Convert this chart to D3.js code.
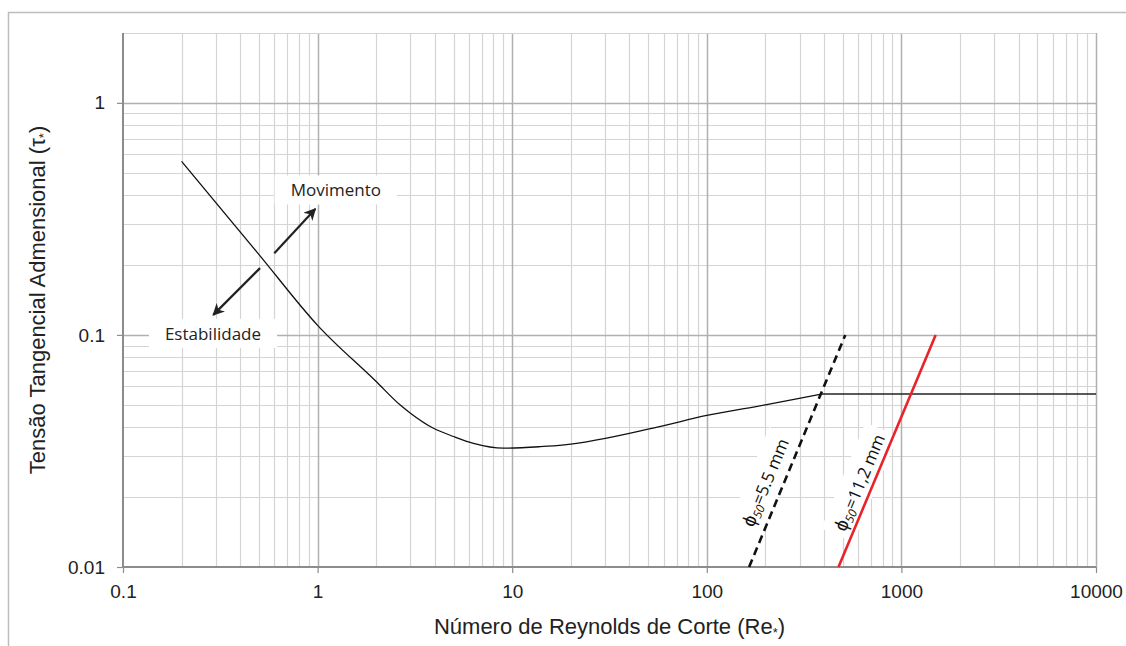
<!DOCTYPE html>
<html>
<head>
<meta charset="utf-8">
<script src="https://cdn.jsdelivr.net/npm/d3@7"></script>
<style>
body { margin: 0; background: #fff; }
</style>
</head>
<body>
<div id="chartContainer"></div>
<script>

// Shields curve (last two points are the flat part)
var reynolds = [0.2, 0.5, 1, 2, 2.65, 3, 3.94, 5, 6.33, 9, 13.9, 18.5, 55, 100, 200, 390, 10000];
var tau = [0.56, 0.222, 0.11, 0.063, 0.050, 0.046, 0.0396, 0.0365, 0.0341, 0.0325, 0.033, 0.0336, 0.040, 0.045, 0.050, 0.0557, 0.0557];

// grain lines
var d55Re = [165, 515];
var d55Tau = [0.01, 0.1];
var d112Re = [475, 1500];
var d112Tau = [0.01, 0.1];

var xTicks = [0.1, 1, 10, 100, 1000, 10000];
var xTickLabels = ["0.1", "1", "10", "100", "1000", "10000"];
var yTicks = [0.01, 0.1, 1];
var yTickLabels = ["0.01", "0.1", "1"];

// arrows and their labels (Re, tau)
var arrowUp = [[0.599, 0.225], [0.973, 0.349]];
var arrowDown = [[0.506, 0.194], [0.291, 0.122]];
var labelMovimento = [1.24, 0.419];
var labelEstabilidade = [0.29, 0.101];
var labelD55 = [201, 0.0231];
var labelD112 = [612, 0.0231];

var width = 1126, height = 646;
var plotLeft = 123, plotRight = 1096, plotTop = 33, plotBottom = 567;

var svg = d3.select("#chartContainer")
    .append("svg")
    .attr("width", width)
    .attr("height", height);

// outer frame
svg.append("rect")
    .attr("x", 8.5)
    .attr("y", 12.5)
    .attr("width", 1140)
    .attr("height", 660)
    .style("fill", "none")
    .style("stroke", "#bdbdbd")
    .style("stroke-width", 1.5);

var x = d3.scaleLog().domain([0.1, 10000]).range([plotLeft, plotRight]);
var y = d3.scaleLog().domain([0.01, 2]).range([plotBottom, plotTop]);

// minor grid
var xMinor = [];
[0.1, 1, 10, 100, 1000].forEach(function (d) {
    for (var k = 2; k <= 9; k++) xMinor.push(k * d);
});
var yMinor = [];
[0.01, 0.1, 1].forEach(function (d) {
    for (var k = 2; k <= 9; k++) if (k * d <= 2) yMinor.push(k * d);
});

svg.selectAll("line.xminor")
    .data(xMinor)
    .enter()
    .append("line")
    .attr("x1", function (d) { return Math.round(x(d)) + 0.5; })
    .attr("x2", function (d) { return Math.round(x(d)) + 0.5; })
    .attr("y1", plotTop)
    .attr("y2", plotBottom)
    .style("stroke", "#d4d4d4")
    .style("stroke-width", 1.2);

svg.selectAll("line.yminor")
    .data(yMinor)
    .enter()
    .append("line")
    .attr("x1", plotLeft)
    .attr("x2", plotRight)
    .attr("y1", function (d) { return Math.round(y(d)) + 0.5; })
    .attr("y2", function (d) { return Math.round(y(d)) + 0.5; })
    .style("stroke", "#d4d4d4")
    .style("stroke-width", 1.2);

// major grid
svg.selectAll("line.xmajor")
    .data(xTicks.slice(1))
    .enter()
    .append("line")
    .attr("x1", function (d) { return Math.round(x(d)) + 0.5; })
    .attr("x2", function (d) { return Math.round(x(d)) + 0.5; })
    .attr("y1", plotTop)
    .attr("y2", plotBottom)
    .style("stroke", "#b0b0b0")
    .style("stroke-width", 1.5);

svg.selectAll("line.ymajor")
    .data(yTicks.slice(1))
    .enter()
    .append("line")
    .attr("x1", plotLeft)
    .attr("x2", plotRight)
    .attr("y1", function (d) { return Math.round(y(d)) + 0.5; })
    .attr("y2", function (d) { return Math.round(y(d)) + 0.5; })
    .style("stroke", "#b0b0b0")
    .style("stroke-width", 1.5);

// top edge of the plot area
svg.append("line")
    .attr("x1", plotLeft).attr("x2", plotRight)
    .attr("y1", plotTop + 0.5).attr("y2", plotTop + 0.5)
    .style("stroke", "#d4d4d4")
    .style("stroke-width", 1.2);

// axes
var xAxis = svg.append("g")
    .attr("transform", "translate(0," + plotBottom + ")")
    .call(d3.axisBottom(x).tickValues(xTicks).tickSize(6)
        .tickFormat(function (d, i) { return xTickLabels[i]; }));

var yAxis = svg.append("g")
    .attr("transform", "translate(" + plotLeft + ",0)")
    .call(d3.axisLeft(y).tickValues(yTicks).tickSize(6)
        .tickFormat(function (d, i) { return yTickLabels[i]; }));

[xAxis, yAxis].forEach(function (a) {
    a.select(".domain").style("stroke", "#8c8c8c").style("stroke-width", 2);
    a.selectAll(".tick line").style("stroke", "#8c8c8c").style("stroke-width", 1.2);
    a.selectAll(".tick text")
        .style("font-family", "'Liberation Sans', Arial, sans-serif")
        .style("font-size", "19px")
        .style("fill", "#222");
});
xAxis.select(".domain").attr("d", "M" + plotLeft + ",0H" + plotRight);
yAxis.select(".domain").attr("d", "M0," + plotTop + "V" + plotBottom);
xAxis.selectAll(".tick text").attr("y", 18).attr("dy", "0.71em");
yAxis.selectAll(".tick text").attr("x", -18);

// axis titles
var xTitle = svg.append("text")
    .attr("x", (plotLeft + plotRight) / 2)
    .attr("y", 634)
    .attr("text-anchor", "middle")
    .style("font-family", "'Liberation Sans', Arial, sans-serif")
    .style("font-size", "22px")
    .style("fill", "#222");
xTitle.append("tspan").text("Número de Reynolds de Corte (Re");
xTitle.append("tspan").text("*").style("font-size", "13px").attr("dy", 3);
xTitle.append("tspan").text(")").attr("dy", -3);

var yTitle = svg.append("text")
    .attr("transform", "translate(45," + (plotTop + plotBottom) / 2 + ") rotate(-90)")
    .attr("text-anchor", "middle")
    .style("font-family", "'Liberation Sans', Arial, sans-serif")
    .style("font-size", "22px")
    .style("fill", "#222");
yTitle.append("tspan").text("Tensão Tangencial Admensional (τ");
yTitle.append("tspan").text("*").style("font-size", "13px").attr("dy", 3);
yTitle.append("tspan").text(")").attr("dy", -3);

// rotated grain labels (drawn first so the lines stay on top of their boxes)
function grainLabel(pos, re, ta, value) {
    var ang = Math.atan2(y(ta[1]) - y(ta[0]), x(re[1]) - x(re[0])) * 180 / Math.PI;
    var g = svg.append("g")
        .attr("transform", "translate(" + x(pos[0]) + "," + y(pos[1]) + ") rotate(" + ang + ")");
    var r = g.append("rect").style("fill", "#fff");
    var t = g.append("text")
        .attr("text-anchor", "middle")
        .attr("dy", "0.35em")
        .style("font-family", "'Open Sans', sans-serif")
        .style("font-size", "17px")
        .style("fill", "#111");
    t.append("tspan").text("ϕ").style("font-size", "19px");
    t.append("tspan").text("50").style("font-style", "italic").style("font-size", "12px").attr("dy", 3);
    t.append("tspan").text("=" + value + " mm").attr("dy", -3);
    var b = t.node().getBBox();
    r.attr("x", b.x - 6).attr("y", b.y - 4)
        .attr("width", b.width + 12).attr("height", b.height + 8);
}
grainLabel(labelD55, d55Re, d55Tau, "5.5");
grainLabel(labelD112, d112Re, d112Tau, "11,2");

// Shields curve: smooth part, then the flat part
var curveData = reynolds.map(function (r, i) { return [r, tau[i]]; });
var line = d3.line()
    .x(function (d) { return x(d[0]); })
    .y(function (d) { return y(d[1]); });
var smooth = d3.line()
    .x(function (d) { return x(d[0]); })
    .y(function (d) { return y(d[1]); })
    .curve(d3.curveMonotoneX);

svg.append("path")
    .datum(curveData.slice(0, curveData.length - 1))
    .attr("d", smooth)
    .style("fill", "none")
    .style("stroke", "#111")
    .style("stroke-width", 1.3);

svg.append("path")
    .datum(curveData.slice(curveData.length - 2))
    .attr("d", line)
    .style("fill", "none")
    .style("stroke", "#222")
    .style("stroke-width", 1.5);

// grain size lines
svg.append("path")
    .datum(d55Re.map(function (r, i) { return [r, d55Tau[i]]; }))
    .attr("d", line)
    .style("fill", "none")
    .style("stroke", "#111")
    .style("stroke-width", 2.6)
    .style("stroke-dasharray", "8,5");

svg.append("path")
    .datum(d112Re.map(function (r, i) { return [r, d112Tau[i]]; }))
    .attr("d", line)
    .style("fill", "none")
    .style("stroke", "#e8232a")
    .style("stroke-width", 2.6);

// arrows
svg.append("defs").append("marker")
    .attr("id", "head")
    .attr("viewBox", "0 0 10 10")
    .attr("refX", 9)
    .attr("refY", 5)
    .attr("markerWidth", 5.5)
    .attr("markerHeight", 5.5)
    .attr("orient", "auto")
    .append("path")
    .attr("d", "M0,0 L10,5 L0,10 L3,5 z")
    .style("fill", "#222");

[arrowUp, arrowDown].forEach(function (a) {
    svg.append("line")
        .attr("x1", x(a[0][0]))
        .attr("y1", y(a[0][1]))
        .attr("x2", x(a[1][0]))
        .attr("y2", y(a[1][1]))
        .style("stroke", "#222")
        .style("stroke-width", 2.2)
        .attr("marker-end", "url(#head)");
});

// boxed labels
function boxLabel(pos, txt) {
    var g = svg.append("g")
        .attr("transform", "translate(" + x(pos[0]) + "," + y(pos[1]) + ")");
    var r = g.append("rect").style("fill", "#fff");
    var t = g.append("text")
        .attr("text-anchor", "middle")
        .attr("dy", "0.35em")
        .style("font-family", "'Open Sans', sans-serif")
        .style("font-size", "17px")
        .style("fill", "#222")
        .text(txt);
    var b = t.node().getBBox();
    r.attr("x", b.x - 16).attr("y", b.y - 3)
        .attr("width", b.width + 32).attr("height", b.height + 6);
}
boxLabel(labelMovimento, "Movimento");
boxLabel(labelEstabilidade, "Estabilidade");

</script>
</body>
</html>
